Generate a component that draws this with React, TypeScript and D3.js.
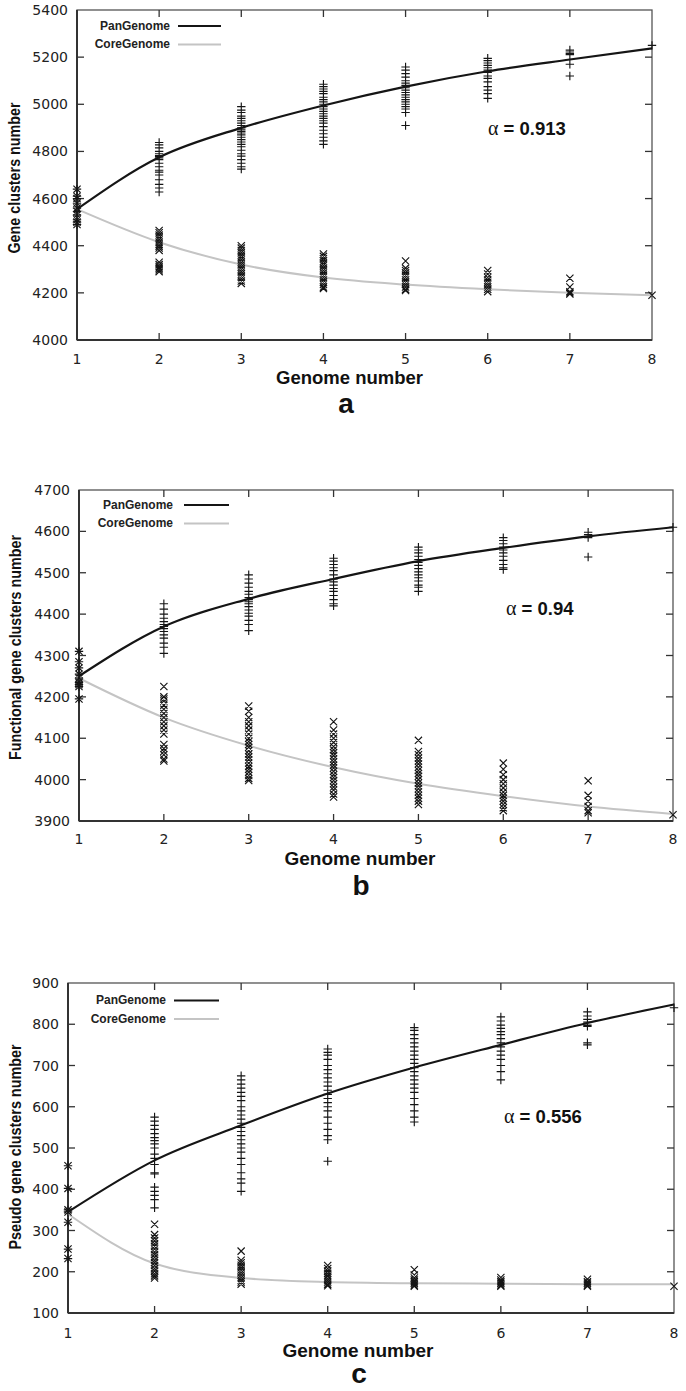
import React from 'react';
import * as d3 from 'd3';

// ---------- shared ----------
const genomeNumbers = [1, 2, 3, 4, 5, 6, 7, 8];
const xTickLabels = ['1', '2', '3', '4', '5', '6', '7', '8'];
const seriesNames = ['PanGenome', 'CoreGenome'];

// ---------- panel a : Gene clusters ----------
const aFirstGenome = [4640, 4610, 4600, 4580, 4560, 4545, 4530, 4510, 4500, 4490];
const aPanPoints = [
  [4838, 4828, 4815, 4800, 4790, 4782, 4778, 4772, 4765, 4750, 4735, 4720, 4712, 4700, 4680, 4660, 4645, 4628],
  [4990, 4975, 4965, 4950, 4940, 4930, 4920, 4910, 4900, 4892, 4885, 4878, 4870, 4860, 4850, 4840, 4830, 4820, 4805, 4790, 4780, 4765, 4750, 4735, 4725],
  [5085, 5075, 5065, 5055, 5045, 5030, 5020, 5010, 5000, 4990, 4980, 4970, 4960, 4950, 4940, 4930, 4920, 4905, 4890, 4875, 4860, 4845, 4830],
  [5158, 5145, 5130, 5115, 5100, 5090, 5080, 5070, 5060, 5050, 5040, 5030, 5020, 5010, 5000, 4990, 4980, 4965, 4910],
  [5195, 5185, 5175, 5165, 5155, 5145, 5135, 5120, 5110, 5095, 5075, 5060, 5045, 5025],
  [5230, 5222, 5215, 5210, 5190, 5170, 5120],
  [5250],
];
const aCorePoints = [
  [4465, 4455, 4445, 4435, 4425, 4415, 4405, 4398, 4390, 4380, 4330, 4320, 4312, 4305, 4298, 4290],
  [4400, 4390, 4380, 4370, 4360, 4350, 4340, 4330, 4320, 4310, 4300, 4290, 4280, 4270, 4260, 4250, 4240],
  [4365, 4355, 4345, 4335, 4325, 4315, 4305, 4295, 4285, 4275, 4265, 4255, 4245, 4235, 4225, 4218],
  [4335, 4305, 4295, 4285, 4275, 4265, 4255, 4245, 4235, 4225, 4215, 4210],
  [4295, 4280, 4265, 4255, 4245, 4235, 4225, 4215, 4205],
  [4262, 4225, 4205, 4200, 4195],
  [4190],
];
const aPanFit = [4555, 4775, 4900, 4995, 5075, 5140, 5190, 5237];
const aCoreFit = [4555, 4415, 4320, 4265, 4235, 4215, 4200, 4190];
const aYTicks = [4000, 4200, 4400, 4600, 4800, 5000, 5200, 5400];

// ---------- panel b : Functional gene clusters ----------
const bFirstGenome = [4310, 4285, 4270, 4255, 4245, 4235, 4230, 4225, 4195];
const bPanPoints = [
  [4425, 4412, 4400, 4390, 4382, 4375, 4370, 4365, 4358, 4350, 4342, 4330, 4320, 4305],
  [4495, 4485, 4475, 4465, 4455, 4448, 4440, 4435, 4430, 4425, 4418, 4410, 4402, 4395, 4385, 4375, 4360],
  [4535, 4528, 4520, 4512, 4505, 4495, 4485, 4478, 4470, 4462, 4455, 4445, 4435, 4425, 4420],
  [4562, 4555, 4548, 4540, 4532, 4525, 4518, 4510, 4502, 4495, 4488, 4480, 4470, 4465, 4455],
  [4585, 4578, 4570, 4562, 4555, 4548, 4540, 4530, 4520, 4512, 4508],
  [4598, 4592, 4585, 4538],
  [4610],
];
const bCorePoints = [
  [4225, 4200, 4195, 4190, 4180, 4170, 4160, 4150, 4140, 4130, 4120, 4110, 4085, 4075, 4068, 4060, 4050, 4045],
  [4178, 4165, 4150, 4140, 4130, 4120, 4110, 4100, 4092, 4085, 4078, 4070, 4062, 4055, 4048, 4040, 4032, 4025, 4018, 4010, 4003, 3998],
  [4140, 4120, 4110, 4100, 4090, 4080, 4072, 4065, 4058, 4050, 4043, 4035, 4028, 4020, 4012, 4005, 3998, 3990, 3982, 3975, 3965, 3958],
  [4095, 4068, 4060, 4052, 4045, 4038, 4030, 4022, 4015, 4008, 4000, 3992, 3985, 3978, 3970, 3962, 3955, 3948, 3940],
  [4040, 4025, 4012, 4000, 3990, 3980, 3970, 3962, 3955, 3948, 3940, 3932, 3925],
  [3997, 3962, 3948, 3935, 3925, 3920],
  [3915],
];
const bPanFit = [4250, 4370, 4437, 4485, 4528, 4560, 4588, 4610];
const bCoreFit = [4245, 4150, 4082, 4030, 3990, 3960, 3935, 3917];
const bYTicks = [3900, 4000, 4100, 4200, 4300, 4400, 4500, 4600, 4700];

// ---------- panel c : Pseudo gene clusters ----------
const cFirstGenome = [457, 402, 350, 345, 320, 255, 232];
const cPanPoints = [
  [575, 565, 555, 545, 535, 525, 518, 510, 500, 485, 475, 460, 440, 437, 405, 395, 385, 375, 355],
  [675, 665, 655, 645, 635, 625, 615, 600, 590, 580, 570, 560, 550, 540, 530, 520, 510, 500, 490, 475, 460, 440, 425, 415, 395],
  [740, 732, 725, 715, 700, 690, 680, 670, 660, 650, 640, 630, 620, 610, 600, 590, 575, 560, 545, 530, 520, 468],
  [792, 785, 775, 765, 755, 745, 735, 725, 715, 705, 695, 685, 675, 665, 655, 645, 635, 620, 605, 590, 575, 563],
  [818, 808, 798, 790, 782, 775, 765, 755, 745, 735, 725, 715, 700, 685, 665],
  [830, 820, 812, 805, 798, 795, 755, 750],
  [840],
];
const cCorePoints = [
  [315, 290, 282, 275, 268, 262, 255, 248, 242, 235, 228, 222, 215, 208, 202, 195, 190, 185],
  [250, 228, 222, 216, 210, 204, 198, 192, 186, 180, 175, 170],
  [215, 208, 202, 196, 190, 185, 180, 175, 170, 166],
  [205, 192, 185, 180, 176, 172, 168, 165],
  [186, 180, 176, 172, 168, 165],
  [182, 176, 172, 168, 165],
  [165],
];
const cPanFit = [345, 470, 555, 632, 695, 750, 803, 848];
const cCoreFit = [340, 220, 185, 175, 172, 171, 170, 170];
const cYTicks = [100, 200, 300, 400, 500, 600, 700, 800, 900];

// ---------- layout (positions only) ----------
const panels = [
  {
    key: 'a', first: aFirstGenome, pan: aPanPoints, core: aCorePoints, panFit: aPanFit, coreFit: aCoreFit, yTicks: aYTicks,
    yTitle: 'Gene clusters number', alpha: '0.913',
    left: 77, right: 652, top: 10, bottom: 340,
    yTitleX: 19.5, yTitleLen: 151,
    xLabelY: 364, xTitleY: 384, xTitleX: 349.5, xTitleLen: 147, letterY: 413, letterX: 346,
    alphaX: 488, alphaY: 135, legX: 170, legY: 29.5, lineX1: 178, lineX2: 221,
  },
  {
    key: 'b', first: bFirstGenome, pan: bPanPoints, core: bCorePoints, panFit: bPanFit, coreFit: bCoreFit, yTicks: bYTicks,
    yTitle: 'Functional gene clusters number', alpha: '0.94',
    left: 79, right: 673, top: 490, bottom: 821,
    yTitleX: 21, yTitleLen: 225,
    xLabelY: 844, xTitleY: 865, xTitleX: 360, xTitleLen: 151, letterY: 895, letterX: 361,
    alphaX: 506, alphaY: 615, legX: 173, legY: 508.5, lineX1: 184, lineX2: 229,
  },
  {
    key: 'c', first: cFirstGenome, pan: cPanPoints, core: cCorePoints, panFit: cPanFit, coreFit: cCoreFit, yTicks: cYTicks,
    yTitle: 'Pseudo gene clusters number', alpha: '0.556',
    left: 68, right: 674, top: 983, bottom: 1313,
    yTitleX: 21, yTitleLen: 205,
    xLabelY: 1337.5, xTitleY: 1357, xTitleX: 358, xTitleLen: 151, letterY: 1383, letterX: 359,
    alphaX: 504, alphaY: 1123, legX: 166, legY: 1004, lineX1: 174, lineX2: 219,
  },
];

const INK = '#151515';
const CORE_GRAY = '#c4c4c4';
const TICK_FONT = 'DejaVu Sans, sans-serif';
const BOLD_FONT = 'Liberation Sans, Arial, sans-serif';

function plusPath(x: number, y: number, r = 4.2) {
  return `M${x - r},${y}H${x + r}M${x},${y - r}V${y + r}`;
}
function crossPath(x: number, y: number, r = 3.6) {
  return `M${x - r},${y - r}L${x + r},${y + r}M${x - r},${y + r}L${x + r},${y - r}`;
}

function Panel({ p }: { p: any }) {
  const yDomain = [p.yTicks[0], p.yTicks[p.yTicks.length - 1]];
  const x = d3.scaleLinear().domain([1, 8]).range([p.left, p.right]);
  const y = d3.scaleLinear().domain(yDomain).range([p.bottom, p.top]);
  const line = d3
    .line<number>()
    .x((_, i) => x(genomeNumbers[i]))
    .y((d) => y(d))
    .curve(d3.curveMonotoneX);

  let plusD = '';
  let crossD = '';
  p.first.forEach((v: number) => {
    plusD += plusPath(x(1), y(v));
    crossD += crossPath(x(1), y(v));
  });
  p.pan.forEach((vals: number[], i: number) => {
    vals.forEach((v) => (plusD += plusPath(x(genomeNumbers[i + 1]), y(v))));
  });
  p.core.forEach((vals: number[], i: number) => {
    vals.forEach((v) => (crossD += crossPath(x(genomeNumbers[i + 1]), y(v))));
  });

  const tickLen = 7;
  const yTitleCenter = (p.top + p.bottom) / 2 + (p.key === 'a' ? 3 : p.key === 'b' ? -8 : -1);

  return (
    <g>
      {/* frame */}
      <rect x={p.left} y={p.top} width={p.right - p.left} height={p.bottom - p.top} fill="none" stroke="#555" strokeWidth={1.3} />
      <line x1={p.left} x2={p.left} y1={p.top} y2={p.bottom} stroke="#333" strokeWidth={2} />
      <line x1={p.left} x2={p.right} y1={p.bottom} y2={p.bottom} stroke="#333" strokeWidth={2} />
      {/* x ticks (bottom and top, inward) */}
      {genomeNumbers.map((g, i) => (
        <g key={'xt' + g}>
          {i > 0 && i < 7 && (
            <>
              <line x1={x(g)} x2={x(g)} y1={p.bottom} y2={p.bottom - tickLen} stroke="#333" strokeWidth={1.3} />
              <line x1={x(g)} x2={x(g)} y1={p.top} y2={p.top + tickLen} stroke="#333" strokeWidth={1.3} />
            </>
          )}
          <text x={x(g)} y={p.xLabelY} textAnchor="middle" fontFamily={TICK_FONT} fontSize={14} fill="#222">
            {xTickLabels[i]}
          </text>
        </g>
      ))}
      {/* y ticks (left and right, inward) */}
      {p.yTicks.map((t: number, i: number) => (
        <g key={'yt' + t}>
          {i > 0 && i < p.yTicks.length - 1 && (
            <>
              <line x1={p.left} x2={p.left + tickLen} y1={y(t)} y2={y(t)} stroke="#333" strokeWidth={1.3} />
              <line x1={p.right} x2={p.right - tickLen} y1={y(t)} y2={y(t)} stroke="#333" strokeWidth={1.3} />
            </>
          )}
          <text x={p.left - 9} y={y(t) + 5} textAnchor="end" fontFamily={TICK_FONT} fontSize={14} fill="#222">
            {t}
          </text>
        </g>
      ))}
      {/* fitted curves */}
      <path d={line(p.coreFit) || ''} fill="none" stroke={CORE_GRAY} strokeWidth={2} />
      <path d={line(p.panFit) || ''} fill="none" stroke={INK} strokeWidth={2.2} />
      {/* markers */}
      <path d={plusD} fill="none" stroke={INK} strokeWidth={1.15} />
      <path d={crossD} fill="none" stroke={INK} strokeWidth={1.15} />
      {/* legend */}
      <text x={p.legX} y={p.legY} textAnchor="end" fontFamily={BOLD_FONT} fontWeight="bold" fontSize={12} fill="#222">
        {seriesNames[0]}
      </text>
      <line x1={p.lineX1} x2={p.lineX2} y1={p.legY - 3.5} y2={p.legY - 3.5} stroke={INK} strokeWidth={2.2} />
      <text x={p.legX} y={p.legY + 18.5} textAnchor="end" fontFamily={BOLD_FONT} fontWeight="bold" fontSize={12} fill="#222">
        {seriesNames[1]}
      </text>
      <line x1={p.lineX1} x2={p.lineX2} y1={p.legY + 15} y2={p.legY + 15} stroke={CORE_GRAY} strokeWidth={2} />
      {/* alpha */}
      <text x={p.alphaX} y={p.alphaY} fontFamily={BOLD_FONT} fontSize={18.5} fill="#111">
        <tspan fontWeight="normal" fontFamily="Liberation Serif, DejaVu Serif, serif" fontSize={20}>α</tspan>
        <tspan fontWeight="bold"> = {p.alpha}</tspan>
      </text>
      {/* axis titles */}
      <text
        transform={`translate(${p.yTitleX},${yTitleCenter}) rotate(-90)`}
        textAnchor="middle"
        fontFamily={BOLD_FONT}
        fontWeight="bold"
        fontSize={17}
        textLength={p.yTitleLen}
        lengthAdjust="spacingAndGlyphs"
        fill="#111"
      >
        {p.yTitle}
      </text>
      <text
        x={p.xTitleX}
        y={p.xTitleY}
        textAnchor="middle"
        fontFamily={BOLD_FONT}
        fontWeight="bold"
        fontSize={18.5}
        textLength={p.xTitleLen}
        lengthAdjust="spacingAndGlyphs"
        fill="#111"
      >
        Genome number
      </text>
      <text x={p.letterX} y={p.letterY} textAnchor="middle" fontFamily={BOLD_FONT} fontWeight="bold" fontSize={28} fill="#111">
        {p.key}
      </text>
    </g>
  );
}

export default function App() {
  return (
    <svg
      width={686}
      height={1391}
      viewBox="0 0 686 1391"
      style={{ position: 'absolute', left: 0, top: 0, background: '#fff' }}
    >
      <rect width={686} height={1391} fill="#fff" />
      {panels.map((p) => (
        <Panel key={p.key} p={p} />
      ))}
    </svg>
  );
}
